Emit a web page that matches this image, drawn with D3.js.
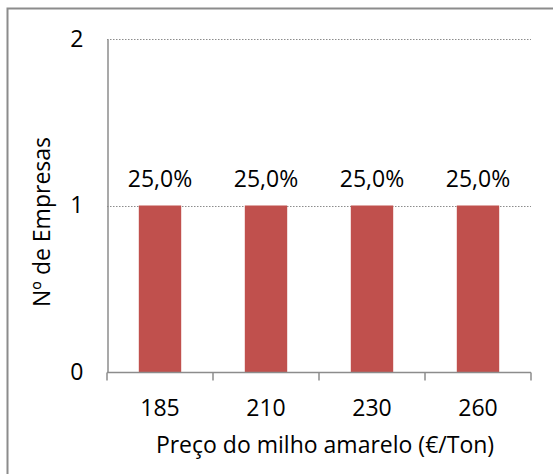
<!DOCTYPE html>
<html>
<head>
<meta charset="utf-8">
<script src="https://cdn.jsdelivr.net/npm/d3@7"></script>
<style>
  html, body { margin: 0; padding: 0; background: #fff; }
  svg { display: block; }
  text { font-family: "Open Sans", Lato, sans-serif; fill: #000; }
</style>
</head>
<body>
<svg id="chart" width="553" height="474"></svg>
<script>
// Price of yellow corn (€/ton) and number of companies at each price
const categories = ["185", "210", "230", "260"];
const companies = [1, 1, 1, 1];
const shareLabels = ["25,0%", "25,0%", "25,0%", "25,0%"];
const yTicks = [0, 1, 2];

const FONT = "'Open Sans', sans-serif";
const FS = 23;

const svg = d3.select("#chart");
const margin = { left: 107, right: 22, top: 39, bottom: 102 };
const W = 553, H = 474;

// Frame around the chart area
svg.append("path")
  .attr("d", `M7.5,${H} V8.5 H${W}`)
  .attr("fill", "none")
  .attr("stroke", "#8c8c8c")
  .attr("stroke-width", 2);

const x = d3.scaleBand()
  .domain(categories)
  .range([margin.left, W - margin.right])
  .paddingInner(0.6)
  .paddingOuter(0.3);

const y = d3.scaleLinear()
  .domain([0, 2])
  .range([H - margin.bottom, margin.top]);

// Dotted gridlines
svg.append("g")
  .selectAll("line")
  .data(yTicks.filter(d => d > 0))
  .join("line")
  .attr("x1", margin.left)
  .attr("x2", W - margin.right)
  .attr("y1", d => Math.round(y(d)) + 0.5)
  .attr("y2", d => Math.round(y(d)) + 0.5)
  .attr("stroke", "#8c8c8c")
  .attr("stroke-width", 1)
  .attr("stroke-dasharray", "1.5,1.5");

// Bars
svg.append("g")
  .selectAll("rect")
  .data(categories)
  .join("rect")
  .attr("x", d => x(d))
  .attr("width", x.bandwidth())
  .attr("y", (d, i) => y(companies[i]))
  .attr("height", (d, i) => y(0) - y(companies[i]))
  .attr("fill", "#C0504D");

// Value labels
svg.append("g")
  .selectAll("text")
  .data(categories)
  .join("text")
  .attr("x", d => x(d) + x.bandwidth() / 2)
  .attr("y", (d, i) => y(companies[i]) - 19)
  .attr("text-anchor", "middle")
  .attr("font-size", FS)
  .text((d, i) => shareLabels[i]);

// Y axis
const yAxis = svg.append("g")
  .attr("transform", `translate(${margin.left + 0.5},0)`)
  .call(d3.axisLeft(y).tickValues(yTicks).tickSize(0).tickPadding(24).tickFormat(d3.format("d")));
yAxis.select(".domain").attr("stroke", "#8c8c8c").attr("stroke-width", 1.5);
yAxis.selectAll("text").attr("font-size", FS).attr("font-family", FONT).attr("fill", "#000");

// X axis with ticks at band boundaries
const baseY = Math.round(y(0)) + 0.5;
const xAxisG = svg.append("g");
xAxisG.append("line")
  .attr("x1", margin.left).attr("x2", W - margin.right)
  .attr("y1", baseY).attr("y2", baseY)
  .attr("stroke", "#8c8c8c").attr("stroke-width", 1.5);
const edges = d3.range(categories.length + 1).map(i => margin.left + i * (W - margin.right - margin.left) / categories.length);
xAxisG.selectAll("line.tick")
  .data(edges)
  .join("line")
  .attr("class", "tick")
  .attr("x1", d => d).attr("x2", d => d)
  .attr("y1", baseY).attr("y2", baseY + 8)
  .attr("stroke", "#8c8c8c").attr("stroke-width", 1.5);
xAxisG.selectAll("text")
  .data(categories)
  .join("text")
  .attr("x", d => x(d) + x.bandwidth() / 2)
  .attr("y", baseY + 43)
  .attr("text-anchor", "middle")
  .attr("font-size", FS)
  .text(d => d);

// Axis titles
svg.append("text")
  .attr("x", 325)
  .attr("y", 453)
  .attr("text-anchor", "middle")
  .attr("font-size", FS)
  .text("Preço do milho amarelo (€/Ton)");

svg.append("text")
  .attr("transform", "translate(50,222) rotate(-90)")
  .attr("text-anchor", "middle")
  .attr("font-size", FS)
  .text("Nº de Empresas");
</script>
</body>
</html>
